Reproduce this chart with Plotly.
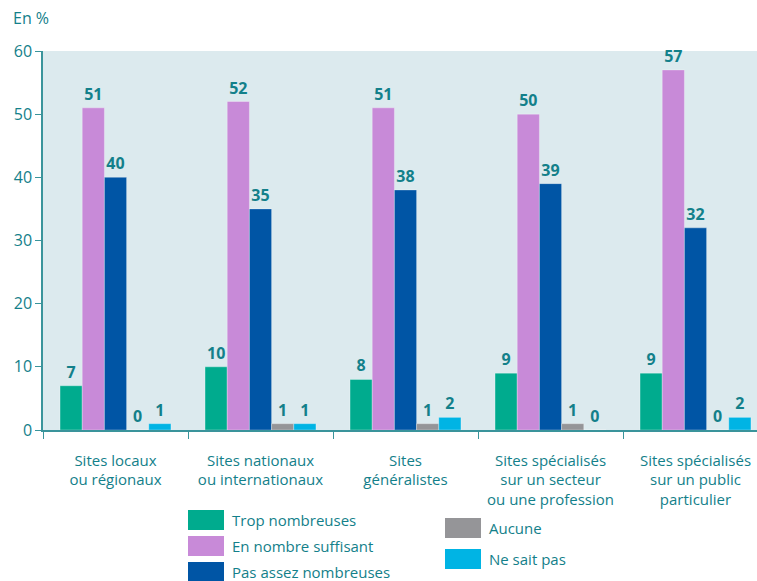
import plotly.graph_objects as go

categories = ["Sites locaux<br>ou régionaux", "Sites nationaux<br>ou internationaux",
              "Sites<br>généralistes", "Sites spécialisés<br>sur un secteur<br>ou une profession",
              "Sites spécialisés<br>sur un public<br>particulier"]
series_names = ["Trop nombreuses", "En nombre suffisant", "Pas assez nombreuses", "Aucune", "Ne sait pas"]
trop = [7, 10, 8, 9, 9]
suffisant = [51, 52, 51, 50, 57]
pas_assez = [40, 35, 38, 39, 32]
aucune = [0, 1, 1, 1, 0]
ne_sait_pas = [1, 1, 2, 0, 2]
y_ticks = [0, 10, 20, 30, 40, 50, 60]

colors = ["#00ab8e", "#c88ad8", "#0055a5", "#959598", "#00b4e4"]
TXT = "#13808a"
AX = "#3a949b"
FONT = "Open Sans"

W, H = 757, 581
L, R, T, B = 43, 0, 51, 151
pw, ph = W - L - R, H - T - B

def px(x):
    return (x - L) / pw

def py(y):
    return (H - B - y) / ph

fig = go.Figure()
values = [trop, suffisant, pas_assez, aucune, ne_sait_pas]
for name, vals, col in zip(series_names, values, colors):
    fig.add_trace(go.Bar(
        x=categories, y=vals, name=name,
        marker=dict(color=col, line=dict(width=0.6, color="rgba(255,255,255,0.5)")),
        text=[str(v) for v in vals], textposition="outside", cliponaxis=False,
        textfont=dict(family=FONT, size=16, color=TXT, weight="bold"),
        showlegend=False,
    ))

shapes = []
annotations = []
leg_pos = [(188, 510), (188, 536), (188, 562), (445, 518), (445, 549)]
for (x0, y0), name, col in zip(leg_pos, series_names, colors):
    shapes.append(dict(type="rect", xref="paper", yref="paper",
                       x0=px(x0), x1=px(x0 + 36), y0=py(y0 + 20), y1=py(y0),
                       fillcolor=col, line=dict(width=0)))
    annotations.append(dict(xref="paper", yref="paper", x=px(x0 + 42), y=py(y0 + 10),
                            text=name, showarrow=False, xanchor="left", yanchor="middle",
                            font=dict(family=FONT, size=15, color=TXT)))
annotations.append(dict(xref="paper", yref="paper", x=px(11), y=py(18), text="En %",
                        showarrow=False, xanchor="left", yanchor="middle",
                        font=dict(family=FONT, size=16, color=TXT)))

fig.update_layout(
    width=W, height=H, margin=dict(l=L, r=R, t=T, b=B),
    paper_bgcolor="white", plot_bgcolor="#dceaee",
    barmode="group", bargap=0.235, bargroupgap=0,
    font=dict(family=FONT, color=TXT),
    shapes=shapes, annotations=annotations,
    xaxis=dict(range=[-0.5, -0.5 + pw / 145.0], tickson="boundaries", ticks="outside",
               ticklen=7, tickcolor=AX, showline=True, linecolor=AX,
               linewidth=1.5, showgrid=False, tickfont=dict(size=15, color=TXT),
               ticklabelstandoff=16, fixedrange=True),
    yaxis=dict(range=[0, 60], tickvals=y_ticks, ticks="outside", ticklen=6,
               tickcolor=AX, showline=True, linecolor=AX, linewidth=1.5,
               showgrid=False, zeroline=False, tickfont=dict(size=16, color=TXT)),
)
fig.write_html("out.html", config={"displayModeBar": False},
               post_script="document.body.style.margin='0';")
